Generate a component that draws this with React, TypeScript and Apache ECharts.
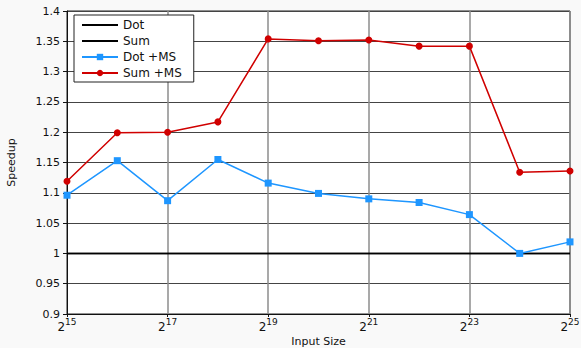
import React, { useEffect, useRef } from "react";
import * as echarts from "echarts";

const exponents = [15, 16, 17, 18, 19, 20, 21, 22, 23, 24, 25];
const dotBase = [1, 1, 1, 1, 1, 1, 1, 1, 1, 1, 1];
const sumBase = [1, 1, 1, 1, 1, 1, 1, 1, 1, 1, 1];
const dotMS = [1.096, 1.153, 1.087, 1.155, 1.116, 1.099, 1.09, 1.084, 1.064, 1.0, 1.019];
const sumMS = [1.119, 1.199, 1.2, 1.217, 1.354, 1.351, 1.352, 1.342, 1.342, 1.134, 1.136];

const FONT = "DejaVu Sans";

export default function App() {
  const ref = useRef<HTMLDivElement>(null);
  useEffect(() => {
    const chart = echarts.init(ref.current!, null, { renderer: "svg" });
    const pair = (arr: number[]) => exponents.map((e, i) => [e, arr[i]]);
    chart.setOption({
      animation: false,
      backgroundColor: "#f9f9f9",
      textStyle: { fontFamily: FONT },
      grid: {
        left: 67,
        right: 11,
        top: 11,
        bottom: 34,
        outerBoundsMode: "none",
        containLabel: false,
        show: true,
        backgroundColor: "#ffffff",
        borderColor: "#222",
        borderWidth: 1,
      },
      legend: {
        orient: "vertical",
        left: 74,
        top: 15,
        itemWidth: 36,
        itemHeight: 8,
        itemGap: 4,
        padding: [4, 12, 3, 7],
        borderColor: "#222",
        borderWidth: 1,
        borderRadius: 0,
        backgroundColor: "#fff",
        textStyle: { fontFamily: FONT, fontSize: 12, color: "#111", lineHeight: 9 },
        data: [
          { name: "Dot", itemStyle: { opacity: 0 } },
          { name: "Sum", itemStyle: { opacity: 0 } },
          { name: "Dot +MS" },
          { name: "Sum +MS" },
        ],
      },
      xAxis: {
        type: "value",
        min: 15,
        max: 25,
        interval: 2,
        name: "Input Size",
        nameLocation: "middle",
        nameGap: 21,
        nameMoveOverlap: false,
        nameTextStyle: { fontFamily: FONT, fontSize: 11, color: "#111", lineHeight: 12 },
        axisLine: { show: true, lineStyle: { color: "#111", width: 1 } },
        axisTick: { show: true, length: 3, lineStyle: { color: "#111" } },
        splitLine: { show: true, lineStyle: { color: "#8c8c8c", width: 1.5 } },
        axisLabel: {
          margin: 3,
          formatter: (v: number) => `{b|2}{s|${v}}`,
          rich: {
            b: { fontFamily: FONT, fontSize: 12, color: "#111", padding: [4, 0, 0, 0] },
            s: { fontFamily: FONT, fontSize: 9, color: "#111", verticalAlign: "top", padding: [0, 0, 3, 0] },
          },
        },
      },
      yAxis: {
        type: "value",
        min: 0.9,
        max: 1.4,
        interval: 0.05,
        name: "Speedup",
        nameLocation: "middle",
        nameGap: 50,
        nameRotate: 90,
        nameTextStyle: { fontFamily: FONT, fontSize: 11, color: "#111" },
        axisLine: { show: true, lineStyle: { color: "#111", width: 1 } },
        axisTick: { show: true, length: 4, lineStyle: { color: "#111" } },
        splitLine: { show: true, lineStyle: { color: "#444", width: 1 } },
        axisLabel: {
          margin: 7,
          fontFamily: FONT,
          fontSize: 11,
          color: "#111",
          formatter: (v: number) => String(parseFloat(v.toFixed(2))),
        },
      },
      series: [
        {
          name: "Dot",
          type: "line",
          data: pair(dotBase),
          symbol: "none",
          lineStyle: { color: "#000", width: 1.5 },
          itemStyle: { color: "#000" },
        },
        {
          name: "Sum",
          type: "line",
          data: pair(sumBase),
          symbol: "none",
          lineStyle: { color: "#000", width: 1.5 },
          itemStyle: { color: "#000" },
        },
        {
          name: "Dot +MS",
          type: "line",
          data: pair(dotMS),
          symbol: "rect",
          symbolSize: 7,
          lineStyle: { color: "#1e96ff", width: 1.5 },
          itemStyle: { color: "#1e96ff" },
        },
        {
          name: "Sum +MS",
          type: "line",
          data: pair(sumMS),
          symbol: "circle",
          symbolSize: 7,
          lineStyle: { color: "#d00000", width: 1.5 },
          itemStyle: { color: "#d00000" },
        },
      ],
    });
    return () => chart.dispose();
  }, []);
  return (
    <div
      ref={ref}
      style={{ position: "fixed", left: 0, top: 0, width: 581, height: 348 }}
    />
  );
}
